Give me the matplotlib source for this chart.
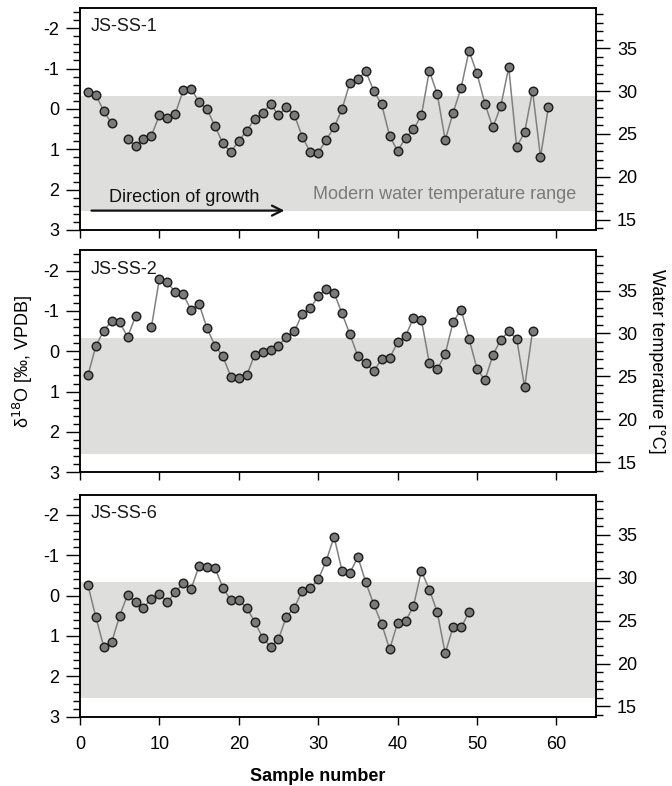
import numpy as np
import matplotlib.pyplot as plt
from matplotlib.ticker import MultipleLocator, FixedLocator

plt.rcParams['font.family'] = ['Liberation Sans', 'DejaVu Sans']
plt.rcParams['axes.unicode_minus'] = False

nan = np.nan

# d18O values (per mil VPDB), one per sample, nan where a sample is missing
ss1 = [-0.42, -0.35, 0.06, 0.36, nan, 0.75, 0.92, 0.75, 0.66, 0.16,
       0.23, 0.12, -0.46, -0.49, -0.18, 0.00, 0.43, 0.85, 1.07, 0.79,
       0.54, 0.25, 0.11, -0.13, 0.16, -0.04, 0.15, 0.69, 1.07, 1.09,
       0.77, 0.46, 0.01, -0.65, -0.74, -0.93, -0.45, -0.11, 0.67, 1.04,
       0.72, 0.51, 0.16, -0.94, -0.37, 0.77, 0.09, -0.52, -1.44, -0.88,
       -0.13, 0.46, -0.07, -1.03, 0.94, 0.58, -0.45, 1.19, -0.05]
ss2 = [0.60, -0.13, -0.51, -0.76, -0.72, -0.35, -0.87, nan, -0.60, -1.79,
       -1.71, -1.46, -1.41, -1.02, -1.17, -0.57, -0.14, 0.13, 0.63, 0.67,
       0.60, 0.09, 0.02, -0.04, -0.14, -0.35, -0.49, -0.93, -1.06, -1.37,
       -1.54, -1.45, -0.94, -0.42, 0.13, 0.30, 0.50, 0.19, 0.17, -0.22,
       -0.37, -0.83, -0.78, 0.29, 0.45, 0.07, -0.73, -1.03, -0.31, 0.43,
       0.72, 0.10, -0.29, -0.49, -0.31, 0.89, -0.50]
ss6 = [-0.26, 0.53, 1.27, 1.15, 0.50, -0.02, 0.16, 0.30, 0.08, -0.05,
       0.17, -0.09, -0.30, -0.17, -0.73, -0.71, -0.68, -0.20, 0.12, 0.12,
       0.30, 0.65, 1.04, 1.27, 1.08, 0.52, 0.30, -0.12, -0.18, -0.40,
       -0.85, -1.46, -0.62, -0.56, -0.96, -0.33, 0.22, 0.70, 1.33, 0.68,
       0.64, 0.26, -0.61, -0.15, 0.41, 1.43, 0.77, 0.79, 0.41]

series = [ss1, ss2, ss6]
names = ['JS-SS-1', 'JS-SS-2', 'JS-SS-6']

# modern water temperature range expressed in d18O
modern_range = (-0.33, 2.54)

fig = plt.figure(figsize=(6.72, 7.86), dpi=100)
bottoms = [0.7074, 0.3991, 0.0882]
left, width, height = 0.119, 0.768, 0.2824
fs = 13

for i, (vals, name) in enumerate(zip(series, names)):
    ax = fig.add_axes([left, bottoms[i], width, height])
    n = np.arange(1, len(vals) + 1)
    ax.axhspan(*modern_range, color='#dededd', lw=0, zorder=0)
    ax.plot(n, vals, '-', color='#808080', lw=1.1, zorder=2)
    ax.plot(n, vals, 'o', ms=6.2, mfc='#7a7a7a', mec='#1a1a1a', mew=1.0, zorder=3)

    ax.set_xlim(0, 65)
    ax.set_ylim(3, -2.5)
    ax.xaxis.set_major_locator(FixedLocator([0, 10, 20, 30, 40, 50, 60]))
    ax.yaxis.set_major_locator(MultipleLocator(1))
    ax.yaxis.set_minor_locator(MultipleLocator(0.2))
    ax.tick_params(axis='y', which='major', direction='out', length=10, width=1, labelsize=fs, pad=5)
    ax.tick_params(axis='y', which='minor', direction='out', length=5, width=1)
    ax.tick_params(axis='x', which='major', direction='out', length=6, width=1, labelsize=fs, pad=8)
    if i < 2:
        ax.tick_params(axis='x', labelbottom=False)
    for s in ax.spines.values():
        s.set_linewidth(1.1)

    ax.text(0.021, 0.915, name, transform=ax.transAxes, fontsize=fs, va='center', ha='left', color='#1a1a1a')

    # temperature scale on the right
    ax2 = ax.twinx()
    ax2.set_ylim(13.8, 39.7)
    ax2.yaxis.set_major_locator(FixedLocator([15, 20, 25, 30, 35]))
    ax2.yaxis.set_minor_locator(FixedLocator(np.arange(14, 40)))
    ax2.tick_params(axis='y', which='major', direction='out', length=10, width=1, labelsize=fs, pad=5)
    ax2.tick_params(axis='y', which='minor', direction='out', length=5, width=1)
    for s in ax2.spines.values():
        s.set_linewidth(1.1)

    if i == 0:
        ax.annotate('', xy=(26.1, 2.52), xytext=(1.1, 2.52),
                    arrowprops=dict(arrowstyle='->', color='#111111', lw=1.6, mutation_scale=18))
        ax.text(0.057, 0.145, 'Direction of growth', transform=ax.transAxes, fontsize=fs,
                va='center', ha='left', color='#111111')
        ax.text(0.962, 0.158, 'Modern water temperature range', transform=ax.transAxes, fontsize=fs,
                va='center', ha='right', color='#7a7a7a')
    if i == 1:
        ax.set_ylabel('δ$^{18}$O [‰, VPDB]', fontsize=fs, labelpad=6)
        ax2.set_ylabel('Water temperature [°C]', fontsize=fs, rotation=-90, labelpad=20)
    if i == 2:
        ax.set_xlabel('Sample number', fontsize=fs, fontweight='bold')
        ax.xaxis.set_label_coords(30 / 65, -0.23)

fig.savefig('out.png', dpi=100)
